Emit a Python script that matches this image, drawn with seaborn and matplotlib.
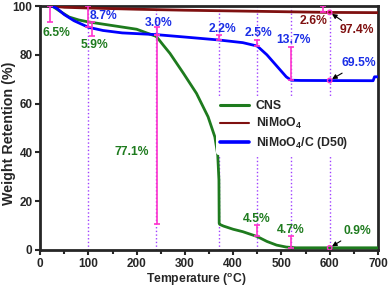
import numpy as np
import pandas as pd
import matplotlib
matplotlib.use("Agg")
import matplotlib.pyplot as plt
import seaborn as sns

# TGA curves
cns_t = [25, 40, 60, 80, 100, 150, 200, 240, 245, 255, 269, 297, 324, 348, 362, 368,
         370.5, 371, 372, 380, 400, 420, 450, 470, 490, 510, 530, 600, 700]
cns_w = [100, 98, 95.5, 94.3, 93.5, 92, 90.5, 87.6, 86.5, 84, 80.6, 72.4, 64.2, 54.6, 46.4, 39,
         28.7, 11, 10.5, 9.8, 8.5, 7.5, 5.5, 3.5, 2, 1.2, 0.9, 0.9, 0.9]

nmo_t = [25, 50, 100, 200, 300, 400, 500, 600, 700]
nmo_w = [100, 99.5, 99.2, 98.7, 98.3, 98.0, 97.7, 97.4, 97.3]

nmc_t = [25, 35, 50, 70, 100, 130, 170, 240, 300, 370, 420, 450, 470, 490, 510, 520,
         540, 690, 693, 700]
nmc_w = [100, 99, 96.5, 94, 91.3, 90, 89, 88.3, 87.3, 86.1, 85, 83.6, 80, 75.5, 71, 69.6,
         69.5, 69.4, 71, 71]

# weight-loss bars: x, top, bottom
bar_x = [21, 100, 108, 242, 242, 370, 450, 520, 586, 450, 520]
bar_top = [100, 100, 93.5, 91.3, 88.3, 88.3, 86.1, 83.2, 100, 10.1, 5.6]
bar_bot = [93.5, 91.3, 87.6, 88.3, 10.5, 86.1, 83.6, 69.5, 97.4, 5.6, 0.9]

guide_x = [100, 240, 370, 450, 520, 600]

# labels: text, x, y, colour key
lab_txt = ["6.5%", "8.7%", "5.9%", "3.0%", "77.1%", "2.2%", "2.5%", "13.7%",
           "2.6%", "4.5%", "4.7%"]
lab_x = [33, 132, 112, 246, 189, 377, 453, 526, 567, 449, 520]
lab_y = [89, 96, 84, 93, 40, 90.5, 89, 86, 94, 12.7, 8]
lab_c = ["g", "b", "g", "b", "g", "b", "b", "b", "r", "g", "g"]

# arrowed final values at 600 C
fin_txt = ["97.4%", "69.5%", "0.9%"]
fin_y = [97.4, 69.5, 0.9]
fin_tx = [656, 661, 657]
fin_ty = [90, 76.6, 7.8]
fin_c = ["r", "b", "g"]

colors = {"g": "#1e7b1e", "r": "#7f1010", "b": "#0000ff"}
txt_colors = {"g": "#1e7b1e", "r": "#7f1010", "b": "#1a2ee6"}

sns.set_style("ticks")
plt.rcParams["font.family"] = ["Liberation Sans", "DejaVu Sans"]
plt.rcParams["font.weight"] = "bold"
plt.rcParams["mathtext.default"] = "regular"

fig, ax = plt.subplots(figsize=(3.9, 2.89), dpi=100)
fig.subplots_adjust(left=0.103, right=0.969, bottom=0.135, top=0.979)

for x in guide_x:
    ax.axvline(x, color="#a040ff", ls=":", lw=1.0, zorder=1)

df = pd.concat([
    pd.DataFrame({"T": cns_t, "W": cns_w, "s": "CNS"}),
    pd.DataFrame({"T": nmo_t, "W": nmo_w, "s": "NiMoO$_4$"}),
    pd.DataFrame({"T": nmc_t, "W": nmc_w, "s": "NiMoO$_4$/C (D50)"}),
])
pal = {"CNS": colors["g"], "NiMoO$_4$": colors["r"], "NiMoO$_4$/C (D50)": colors["b"]}
sns.lineplot(data=df, x="T", y="W", hue="s", palette=pal, sort=False,
             estimator=None, ax=ax, zorder=3, linewidth=2.0)
for line, lw in zip(ax.get_lines()[-3:], [2.2, 1.5, 2.6]):
    line.set_linewidth(lw)

mid = [(a + b) / 2 for a, b in zip(bar_top, bar_bot)]
half = [(a - b) / 2 for a, b in zip(bar_top, bar_bot)]
ax.errorbar(bar_x, mid, yerr=half, fmt="none", ecolor="#ff33cc", elinewidth=1.2,
            capsize=2.5, capthick=1.2, zorder=4)

for t, x, y, c in zip(lab_txt, lab_x, lab_y, lab_c):
    ax.text(x, y, t, color=txt_colors[c], fontsize=8.7, fontweight="bold",
            ha="center", va="center", zorder=5)

ax.scatter([600] * 3, fin_y, s=10, facecolors="none", edgecolors="#ff33cc",
           linewidths=1, zorder=5)
for t, y, tx, ty, c in zip(fin_txt, fin_y, fin_tx, fin_ty, fin_c):
    ax.annotate(t, xy=(600, y), xytext=(tx, ty), color=txt_colors[c], fontsize=8.7,
                fontweight="bold", ha="center", va="center", zorder=5,
                arrowprops=dict(arrowstyle="-|>", color="black", lw=0.8,
                                shrinkA=1, shrinkB=2, mutation_scale=7))

ax.set_xlim(0, 700)
ax.set_ylim(0, 100)
ax.set_xticks(range(0, 701, 100))
ax.set_xticks(range(50, 701, 100), minor=True)
ax.set_yticks(range(0, 101, 20))
ax.tick_params(which="both", direction="out", width=1.5, labelsize=8.5, pad=2)
ax.tick_params(which="major", length=3.5)
ax.tick_params(which="minor", length=3)
for lbl in ax.get_xticklabels() + ax.get_yticklabels():
    lbl.set_fontweight("bold")
for sp in ax.spines.values():
    sp.set_visible(True)
    sp.set_linewidth(2)
ax.set_xlabel("Temperature ($^o$C)", fontsize=8.7, fontweight="bold")
ax.set_ylabel("Weight Retention (%)", fontsize=10.3, fontweight="bold")
ax.xaxis.set_label_coords(0.462, -0.086)
ax.yaxis.set_label_coords(-0.071, 0.477)

leg = ax.legend(loc="upper left", bbox_to_anchor=(0.522, 0.628), borderaxespad=0,
                frameon=True, facecolor="white", edgecolor="none", framealpha=1,
                handlelength=2.4, labelspacing=0.3, borderpad=0.3,
                handletextpad=0.5, prop={"weight": "bold", "size": 8.8})
leg.set_zorder(6)

fig.savefig("out.png", dpi=100)
